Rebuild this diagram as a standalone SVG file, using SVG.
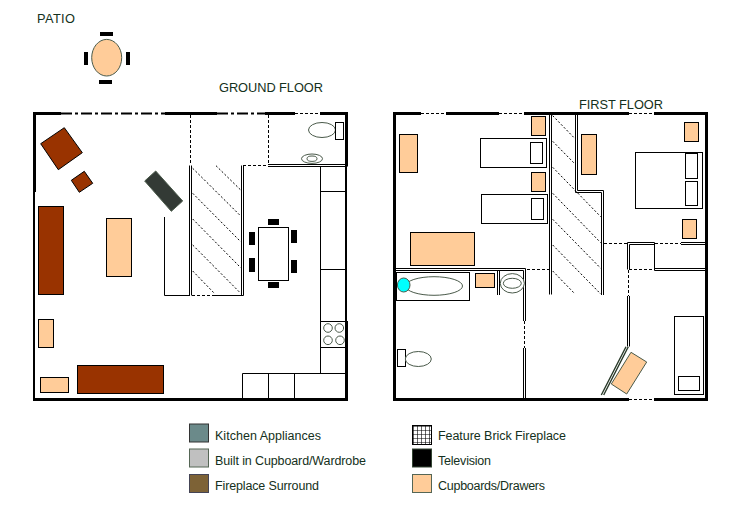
<svg xmlns="http://www.w3.org/2000/svg" width="730" height="507" viewBox="0 0 730 507">
<style>
.l{fill:none;stroke:#000;stroke-width:1}
.w{fill:none;stroke:#000;stroke-width:3}
.m{fill:none;stroke:#000;stroke-width:2}
.da{fill:none;stroke:#000;stroke-width:1;stroke-dasharray:3 2}
.dd{fill:none;stroke:#000;stroke-width:2;stroke-dasharray:11 3 3 3}
.h{fill:none;stroke:#000;stroke-width:1;stroke-dasharray:2 2}
.b{fill:#993300;stroke:#000;stroke-width:1}
.p{fill:#ffcc99;stroke:#000;stroke-width:1}
.f{fill:#fff;stroke:#000;stroke-width:1}
.g{fill:#fff;stroke:#4a5a4a;stroke-width:1}
.k{fill:#000}
text{font-family:"Liberation Sans",Arial,sans-serif;font-size:12.5px;fill:#143020}
.t{font-size:12.8px}
</style>
<defs>
<pattern id="brick" width="4" height="4" patternUnits="userSpaceOnUse" x="413" y="426">
<rect width="4" height="4" fill="#fff"/><path d="M0 0H4M0 0V4" stroke="#000" stroke-width="1.2" fill="none"/>
</pattern>
</defs>
<g id="labels">
<text class="t" x="37" y="23" textLength="38">PATIO</text>
<text class="t" x="219" y="92" textLength="104">GROUND FLOOR</text>
<text class="t" x="579" y="109" textLength="84">FIRST FLOOR</text>
</g>
<g id="patio">
<ellipse cx="106.7" cy="57.7" rx="15" ry="18.3" fill="#ffcc99" stroke="#4a5a4a"/>
<rect class="k" x="100" y="32" width="13" height="4"/>
<rect class="k" x="99" y="80" width="13" height="4"/>
<rect class="k" x="84" y="52" width="4" height="13"/>
<rect class="k" x="126" y="52" width="4" height="13"/>
</g>
<g id="ground-floor">
<path class="w" d="M61 113.500H33M34.500 113V192M165 113.500H217M265 113.500H295M320 113.500H346.500V166.500"/>
<path class="m" d="M34 192V399M346 166V321"/>
<path class="w" d="M346.500 321V399.500H33"/>
<path class="dd" d="M61 113.500H165M217 113.500H265"/>
<path class="da" d="M295 113.500H320M190.500 115V165M243 165.500H268M268.500 115V165"/>
<path class="l" d="M268 164.500H345M268 166.500H345"/>
<path class="l" d="M164.500 217V295.500H190"/>
<path class="l" d="M189.500 165.500V295.500M191.500 165.500V295.500M241.500 165.500V295.500M243.500 165.500V295.500M213 295.500H243.500"/>
<path class="da" d="M192 295.500H213"/>
<path class="h" d="M216 165.700L240.700 190M192.700 168.300L240.700 216M192.700 193.300L240.700 241.700M192.700 219L240.700 267.700M192.700 245L240.700 293.300M192.700 271L215 294"/>
<polygon class="b" points="64.300,127.700 82.300,152.700 58.300,169.700 40.700,143.700"/>
<polygon class="b" points="84.300,171.300 92.700,183.300 79.300,192.300 71.300,180.300"/>
<polygon fill="#333a35" stroke="#4a5a4a" points="155.700,171 182.700,201 171.300,211.300 144.700,181"/>
<rect class="b" x="38.500" y="206.500" width="25" height="88"/>
<rect class="p" x="106.500" y="218.500" width="25" height="58"/>
<rect class="p" x="38.500" y="319.500" width="15" height="28"/>
<rect class="p" x="40.500" y="377.500" width="28" height="15"/>
<rect class="b" x="77.500" y="365.500" width="86" height="28"/>
<rect class="f" x="258.500" y="227.500" width="30" height="53"/>
<rect class="k" x="268" y="219" width="11" height="6"/>
<rect class="k" x="268" y="282" width="11" height="6"/>
<rect class="k" x="249" y="232" width="6" height="13"/>
<rect class="k" x="249" y="258" width="6" height="14"/>
<rect class="k" x="291" y="230" width="6" height="13"/>
<rect class="k" x="291" y="260" width="6" height="13"/>
<ellipse class="g" cx="322" cy="130" rx="13.500" ry="7.500"/>
<rect class="f" x="335.500" y="122.500" width="8" height="17"/>
<ellipse class="g" cx="312" cy="158.700" rx="10.500" ry="4.700"/>
<ellipse class="g" cx="312" cy="158.700" rx="5" ry="2.700"/>
<path class="l" d="M320.500 166V373.500M320.500 191.500H346M320.500 269.500H346M320.500 321.500H346M320.500 347.500H346M242.500 399V373.500H346M268.500 373.500V399M294.500 373.500V399"/>
<circle class="g" cx="328" cy="328" r="4.300"/>
<circle class="g" cx="339.300" cy="328" r="4.300"/>
<circle class="g" cx="328" cy="340.300" r="4.300"/>
<circle class="g" cx="340" cy="340.300" r="4.300"/>
</g>
<g id="first-floor">
<path class="w" d="M421 113.500H394.500V399.500H629M446 113.500H499M524 113.500H629M654 113.500H706.500V399.500H654"/>
<path class="da" d="M421 113.500H446M499 113.500H524M629 113.500H654M629 399.500H654"/>
<path class="l" d="M549.500 113V294.500M551.500 113V294.500M575.500 113V192.500H601.500V295M577.500 113V190.500H603.500V295"/>
<path class="h" d="M552.700 115.700L575 138.700M552.700 141.300L575 164M552.700 167.300L600.700 216.700M552.700 193.300L600.700 242.700M552.700 219.300L600.700 268.300M552.700 245L600.700 294M552.700 271L575 294"/>
<rect class="p" x="531.500" y="116.500" width="14" height="19"/>
<rect class="p" x="531.500" y="172.500" width="14" height="19"/>
<rect class="p" x="399.500" y="134.500" width="18" height="38"/>
<rect class="p" x="410.500" y="232.500" width="64" height="33"/>
<rect class="p" x="581.500" y="134.500" width="15" height="40"/>
<rect class="p" x="684.500" y="122.500" width="14" height="19"/>
<rect class="p" x="682.500" y="219.500" width="14" height="19"/>
<rect class="f" x="480.500" y="138.500" width="66" height="29"/>
<rect class="f" x="530.500" y="142.500" width="12" height="21"/>
<rect class="f" x="481.500" y="194.500" width="66" height="29"/>
<rect class="f" x="531.500" y="198.500" width="12" height="21"/>
<rect class="f" x="635.500" y="152.500" width="67" height="56"/>
<rect class="f" x="685.500" y="153.500" width="12" height="25"/>
<rect class="f" x="685.500" y="181.500" width="12" height="24"/>
<path class="da" d="M604 243.500H627M655 243.500H681M629 269.500H654.500M527 269.500H549M628.500 270V296M524.500 321V348"/>
<path class="l" d="M627.500 269.500V242.500H654.500V270.500M629.500 269.500V244.500H654.500M681 242.500H705M681 244.500H705M654.500 268.500H705M654.500 270.500H705"/>
<path class="l" d="M627.500 296V346.500M629.500 296V346.500"/>
<path stroke="#2a3a2a" stroke-width="1.400" fill="none" d="M626 346.700L601.300 395M628.300 346.700L603.700 395"/>
<polygon fill="#ffcc99" stroke="#4a5a4a" points="631,352.300 646.700,362 626.700,394 611.300,384"/>
<rect class="f" x="674.500" y="316.500" width="29" height="78"/>
<rect class="f" x="678.500" y="376.500" width="21" height="14"/>
<path class="l" d="M396 268.500H525.500M396 270.500H523.500M523.500 270.500V321M525.500 268.500V321M523.500 348V398M525.500 348V398M497.500 270.500V295M499.500 270.500V295"/>
<rect class="f" x="396.500" y="272.500" width="73" height="28"/>
<ellipse class="g" cx="434" cy="286" rx="28.500" ry="9.300"/>
<ellipse cx="403.700" cy="285" rx="6.300" ry="7" fill="#00ffff" stroke="#4a5a4a"/>
<rect class="p" x="475.500" y="273.500" width="19" height="14"/>
<ellipse class="g" cx="512.300" cy="283.300" rx="12" ry="9.700"/>
<ellipse class="g" cx="512.300" cy="283.300" rx="9" ry="5"/>
<rect class="f" x="397.500" y="349.500" width="8" height="17"/>
<ellipse class="g" cx="418.300" cy="359" rx="13" ry="7.500"/>
</g>
<g id="legend">
<rect x="189.500" y="424" width="19" height="18" fill="#6b8a8a" stroke="#333"/>
<rect x="189.500" y="449" width="19" height="18" fill="#c0c0c0" stroke="#556655"/>
<rect x="189.500" y="474.500" width="19" height="18" fill="#7d6236" stroke="#445"/>
<rect x="412.500" y="425.500" width="19" height="19" fill="url(#brick)" stroke="#000"/>
<rect x="412.500" y="449" width="19" height="18" fill="#000" stroke="#334433"/>
<rect x="412.500" y="474.500" width="19" height="18" fill="#ffcc99" stroke="#556655"/>
<text x="215" y="440" textLength="106">Kitchen Appliances</text>
<text x="215" y="465" textLength="151">Built in Cupboard/Wardrobe</text>
<text x="215" y="490" textLength="104">Fireplace Surround</text>
<text x="438" y="440" textLength="128">Feature Brick Fireplace</text>
<text x="438" y="465" textLength="53">Television</text>
<text x="438" y="490" textLength="107">Cupboards/Drawers</text>
</g>
</svg>
